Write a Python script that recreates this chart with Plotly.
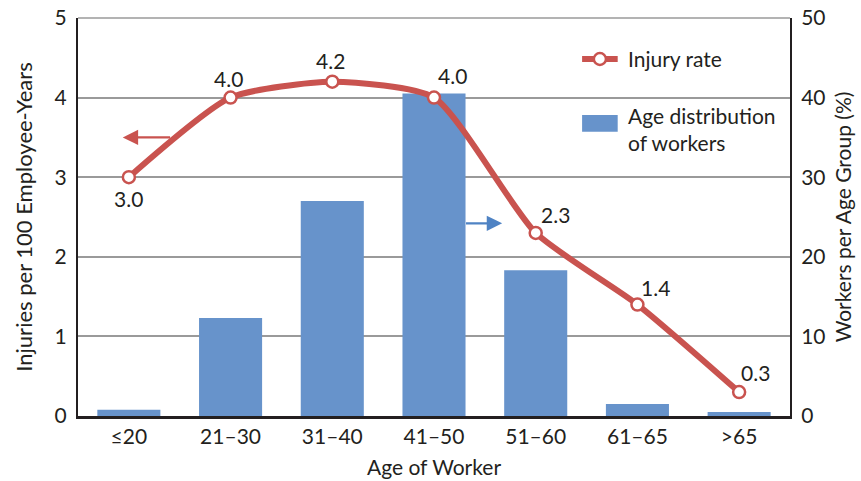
import plotly.graph_objects as go

# Age groups and the two measured series
age_groups = ["≤20", "21–30", "31–40", "41–50", "51–60", "61–65", ">65"]
workers_pct = [0.8, 12.3, 27.0, 40.5, 18.3, 1.5, 0.5]     # % of workers in each age group
injury_rate = [3.0, 4.0, 4.2, 4.0, 2.3, 1.4, 0.3]         # injuries per 100 employee-years
rate_labels = ["3.0", "4.0", "4.2", "4.0", "2.3", "1.4", "0.3"]

# label offsets (px) relative to each injury-rate point
label_dx = [0, -2, -2, 18, 20, 18, 16]
label_dy = [-21, 19, 21, 22, 18, 17, 20]

FONT = "Lato"
FS = 21
RED = "#c9534f"
BLUE = "#6793cb"
INK = "#231f20"

fig = go.Figure()

# bars on the primary (right-hand, %) axis so the line draws above them
fig.add_trace(go.Bar(
    x=age_groups, y=workers_pct, yaxis="y",
    marker=dict(color=BLUE, line=dict(width=0)),
    width=0.62, showlegend=False, hoverinfo="x+y",
))

# injury-rate curve on the overlaid left axis
fig.add_trace(go.Scatter(
    x=age_groups, y=injury_rate, yaxis="y2",
    mode="lines+markers",
    line=dict(color=RED, width=6, shape="spline", smoothing=0.6),
    marker=dict(size=12, color="white", line=dict(color=RED, width=2.5)),
    showlegend=False, hoverinfo="x+y",
))

annotations = []
for g, v, lab, dx, dy in zip(age_groups, injury_rate, rate_labels, label_dx, label_dy):
    annotations.append(dict(
        x=g, y=v, xref="x", yref="y2", text=lab, showarrow=False,
        xshift=dx, yshift=dy, font=dict(family=FONT, size=FS, color=INK),
    ))

# direction arrows linking each series to its axis
annotations.append(dict(
    x=-0.06, y=3.5, xref="x", yref="y2", ax=0.42, ay=3.5, axref="x", ayref="y2",
    showarrow=True, arrowhead=2, arrowsize=1.4, arrowwidth=2.2, arrowcolor=RED, text="",
))
annotations.append(dict(
    x=3.67, y=24.2, xref="x", yref="y", ax=3.3, ay=24.2, axref="x", ayref="y",
    showarrow=True, arrowhead=2, arrowsize=1.4, arrowwidth=2.2, arrowcolor="#4f83c4", text="",
))

# hand-built legend
annotations += [
    dict(x=0.770, y=0.897, xref="paper", yref="paper", xanchor="left", yanchor="middle",
         text="Injury rate", showarrow=False, font=dict(family=FONT, size=FS, color=INK)),
    dict(x=0.770, y=0.722, xref="paper", yref="paper", xanchor="left", yanchor="middle",
         text="Age distribution<br>of workers", showarrow=False, align="left",
         font=dict(family=FONT, size=FS, color=INK)),
]
shapes = [
    # top border drawn as a grid-coloured rule
    dict(type="line", xref="paper", yref="paper", x0=0, x1=1, y0=1, y1=1,
         line=dict(color="#9a9a9a", width=1.5)),
    dict(type="line", xref="paper", yref="paper", x0=0.708, x1=0.758, y0=0.897, y1=0.897,
         line=dict(color=RED, width=6)),
    dict(type="circle", xref="paper", yref="paper", x0=0.7245, x1=0.7415, y0=0.882, y1=0.912,
         fillcolor="white", line=dict(color=RED, width=2.5)),
    dict(type="rect", xref="paper", yref="paper", x0=0.708, x1=0.758, y0=0.714, y1=0.756,
         fillcolor=BLUE, line=dict(width=0)),
]

fig.update_layout(
    width=861, height=481,
    margin=dict(l=78, r=71, t=18, b=65, autoexpand=False),
    paper_bgcolor="white", plot_bgcolor="white",
    font=dict(family=FONT, size=FS, color=INK),
    xaxis=dict(
        title=dict(text="Age of Worker", font=dict(size=FS), standoff=14),
        showline=True, linecolor=INK, linewidth=3, mirror=False,
        ticks="", tickfont=dict(size=FS), showgrid=False,
    ),
    yaxis=dict(
        side="right", range=[0, 50], dtick=10, tick0=0,
        showline=True, linecolor=INK, linewidth=2,
        showgrid=True, gridcolor="#9a9a9a", gridwidth=1.5,
        zeroline=False, ticks="", ticklabelstandoff=5,
        title=dict(text="Workers per Age Group (%)", font=dict(size=FS), standoff=12),
    ),
    yaxis2=dict(
        side="left", overlaying="y", range=[0, 5], dtick=1, tick0=0,
        showline=True, linecolor=INK, linewidth=2,
        showgrid=False, zeroline=False, ticks="", ticklabelstandoff=5,
        title=dict(text="Injuries per 100 Employee-Years", font=dict(size=22), standoff=16),
    ),
    annotations=annotations,
    shapes=shapes,
)

fig.write_html("out.html")
